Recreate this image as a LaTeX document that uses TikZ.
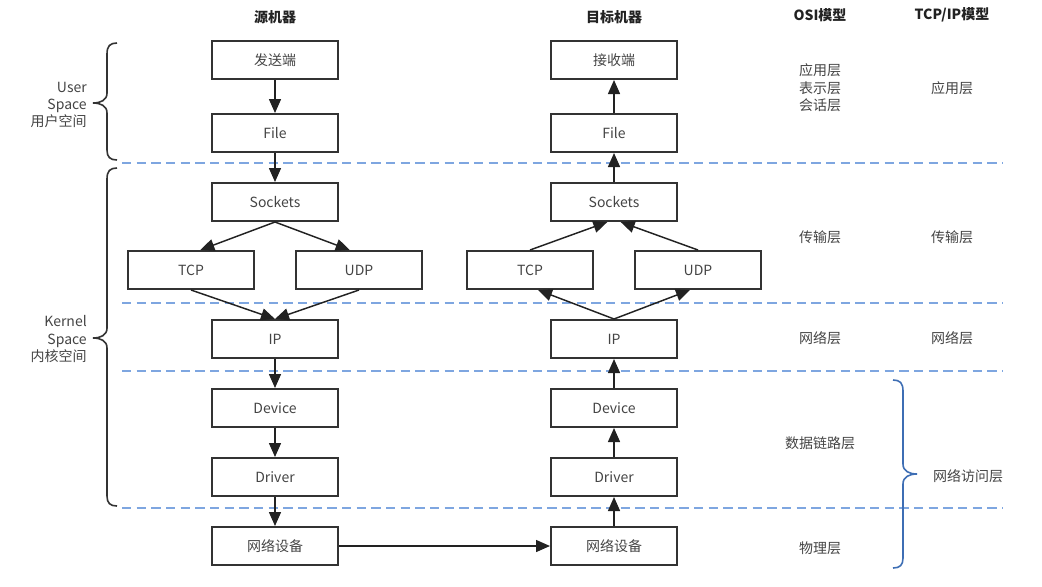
\documentclass[tikz,border=0pt]{standalone}
\usepackage{amsmath}
\usepackage{fontspec}
\setmainfont{Noto Sans CJK SC}
\usetikzlibrary{arrows.meta}

\begin{document}
\begin{tikzpicture}[x=0.75pt,y=0.75pt,yscale=-1,xscale=1,
  box/.style={draw={rgb, 255:red, 51; green, 51; blue, 51 }, line width=1.5pt, minimum width=94.5pt, minimum height=28.5pt, inner sep=0pt, text={rgb, 255:red, 68; green, 68; blue, 68 }, font=\fontsize{10.5}{13}\selectfont},
  lbl/.style={text={rgb, 255:red, 68; green, 68; blue, 68 }, inner sep=0pt, font=\fontsize{10.5}{13}\selectfont},
  head/.style={text={rgb, 255:red, 34; green, 34; blue, 34 }, inner sep=0pt, font=\fontsize{10.5}{13}\selectfont\bfseries},
  arr/.style={draw={rgb, 255:red, 34; green, 34; blue, 34 }, line width=1.1pt, -{Triangle[length=10.5pt,width=9pt]}},
  sep/.style={draw={rgb, 255:red, 126; green, 166; blue, 224 }, line width=1.6pt, dash pattern=on 7pt off 4pt},
  brc/.style={draw={rgb, 255:red, 51; green, 51; blue, 51 }, line width=1.2pt}
]
\useasboundingbox (0,0) rectangle (1042,586);

%Straight Lines: layer borders
\draw [sep] (122,163) -- (1003,163) ;
\draw [sep] (122,303) -- (1003,303) ;
\draw [sep] (122,371) -- (1003,371) ;
\draw [sep] (122,508) -- (1003,508) ;

%Shape: Curly Brace (user space)
\draw [brc] (117,43) .. controls (110,43) and (107,46) .. (107,54) -- (107,93) .. controls (107,100) and (101,103) .. (93,103) .. controls (101,103) and (107,106) .. (107,113) -- (107,150) .. controls (107,157) and (110,160) .. (117,160) ;
%Shape: Curly Brace (kernel space)
\draw [brc] (117,168) .. controls (110,168) and (107,171) .. (107,179) -- (107,328) .. controls (107,335) and (101,338) .. (93,338) .. controls (101,338) and (107,341) .. (107,348) -- (107,496) .. controls (107,503) and (110,506) .. (117,506) ;
%Shape: Curly Brace (network access)
\draw [brc, draw={rgb, 255:red, 62; green, 110; blue, 180 }] (893,380) .. controls (900,380) and (903,383) .. (903,391) -- (903,464) .. controls (903,471) and (909,474) .. (917,474) .. controls (909,474) and (903,477) .. (903,484) -- (903,558) .. controls (903,565) and (900,568) .. (893,568) ;

% Column heads
\node [head] (srcHead) at (275,17) {源机器};
\node [head] (dstHead) at (614,17) {目标机器};
\node [head] (osiHead) at (820,15) {OSI模型};
\node [head] (tcpipHead) at (952,15) {TCP/IP模型};

% Source machine
\node [box] (sndApp) at (275,60) {发送端};
\node [box] (sndFile) at (275,133) {File};
\node [box] (sndSock) at (275,202) {Sockets};
\node [box] (sndTcp) at (191,270) {TCP};
\node [box] (sndUdp) at (359,270) {UDP};
\node [box] (sndIp) at (275,339) {IP};
\node [box] (sndDev) at (275,408) {Device};
\node [box] (sndDrv) at (275,477) {Driver};
\node [box] (sndNic) at (275,546) {网络设备};

% Target machine
\node [box] (rcvApp) at (614,60) {接收端};
\node [box] (rcvFile) at (614,133) {File};
\node [box] (rcvSock) at (614,202) {Sockets};
\node [box] (rcvTcp) at (530,270) {TCP};
\node [box] (rcvUdp) at (698,270) {UDP};
\node [box] (rcvIp) at (614,339) {IP};
\node [box] (rcvDev) at (614,408) {Device};
\node [box] (rcvDrv) at (614,477) {Driver};
\node [box] (rcvNic) at (614,546) {网络设备};

% Arrows down the source side
\draw [arr] (sndApp) -- (sndFile) ;
\draw [arr] (sndFile) -- (sndSock) ;
\draw [arr] (sndSock.south) -- ([xshift=7pt]sndTcp.north) ;
\draw [arr] (sndSock.south) -- ([xshift=-7pt]sndUdp.north) ;
\draw [arr] (sndTcp.south) -- (sndIp.north) ;
\draw [arr] (sndUdp.south) -- (sndIp.north) ;
\draw [arr] (sndIp) -- (sndDev) ;
\draw [arr] (sndDev) -- (sndDrv) ;
\draw [arr] (sndDrv) -- (sndNic) ;
\draw [arr] (sndNic) -- (rcvNic) ;

% Arrows up the target side
\draw [arr] (rcvNic) -- (rcvDrv) ;
\draw [arr] (rcvDrv) -- (rcvDev) ;
\draw [arr] (rcvDev) -- (rcvIp) ;
\draw [arr] (rcvIp.north) -- ([xshift=6pt]rcvTcp.south) ;
\draw [arr] (rcvIp.north) -- ([xshift=-6pt]rcvUdp.south) ;
\draw [arr] (rcvTcp.north) -- ([xshift=-5pt]rcvSock.south) ;
\draw [arr] (rcvUdp.north) -- ([xshift=5pt]rcvSock.south) ;
\draw [arr] (rcvSock) -- (rcvFile) ;
\draw [arr] (rcvFile) -- (rcvApp) ;

% Text Node
\node [lbl, align=right, anchor=east] (userLbl) at (87,105) {User\\Space\\用户空间};
\node [lbl, align=right, anchor=east] (kernelLbl) at (87,339) {Kernel\\Space\\内核空间};

% OSI layers
\node [lbl, align=center] (osiUpper) at (820,88) {应用层\\表示层\\会话层};
\node [lbl] (osiTrans) at (820,237) {传输层};
\node [lbl] (osiNet) at (820,338) {网络层};
\node [lbl] (osiLink) at (820,443) {数据链路层};
\node [lbl] (osiPhy) at (820,548) {物理层};

% TCP/IP layers
\node [lbl] (tiApp) at (952,88) {应用层};
\node [lbl] (tiTrans) at (952,237) {传输层};
\node [lbl] (tiNet) at (952,338) {网络层};
\node [lbl] (tiAccess) at (968,476) {网络访问层};

\end{tikzpicture}
\end{document}
